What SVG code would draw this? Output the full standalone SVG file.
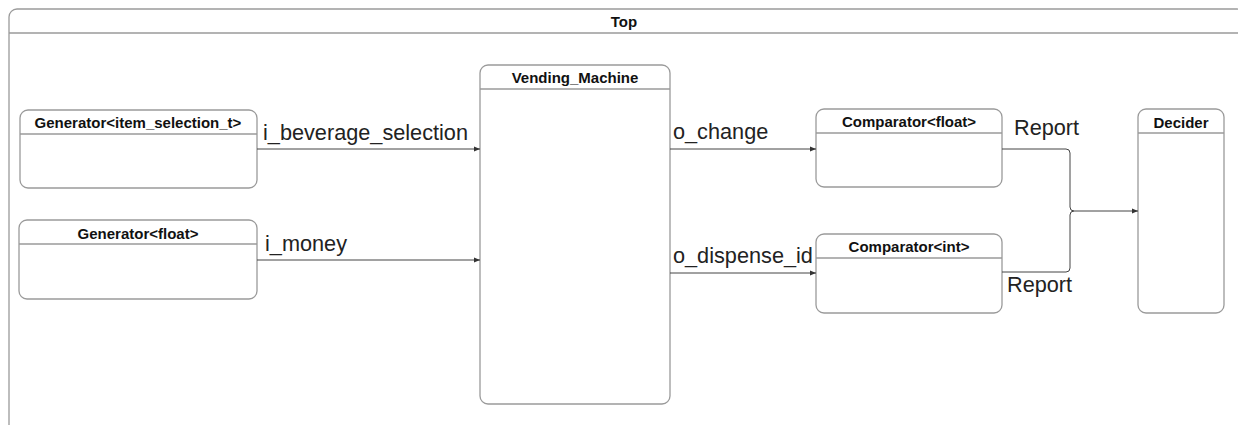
<svg xmlns="http://www.w3.org/2000/svg" width="1238" height="425" viewBox="0 0 1238 425">
<style>
.box{fill:#fff;stroke:#9a9a9a;stroke-width:1.3}
.sep{stroke:#9a9a9a;stroke-width:1.3}
.hdr{font-family:"Liberation Sans",Arial,sans-serif;font-size:15px;font-weight:bold;fill:#111;text-anchor:middle}
.lbl{font-family:"Liberation Sans",Arial,sans-serif;font-size:21.7px;fill:#222}
.edge{fill:none;stroke:#444;stroke-width:1}
</style>
<defs>
<marker id="arr" viewBox="0 0 10 10" refX="10" refY="5" markerWidth="6" markerHeight="6" orient="auto" markerUnits="userSpaceOnUse">
<path d="M0,1 L10,5 L0,9 Z" fill="#333"/>
</marker>
</defs>
<rect width="1238" height="425" fill="#fff"/>
<g id="Top">
<rect class="box" x="9" y="9" width="1236" height="424" rx="8"/>
<line class="sep" x1="9" y1="33" x2="1245" y2="33"/>
<text class="hdr" x="624" y="27">Top</text>
</g>
<g id="gen_item">
<rect class="box" x="20" y="110" width="237" height="78" rx="8"/>
<line class="sep" x1="20" y1="134" x2="257" y2="134"/>
<text class="hdr" x="138" y="128">Generator&lt;item_selection_t&gt;</text>
</g>
<g id="gen_float">
<rect class="box" x="19" y="220" width="238" height="79" rx="8"/>
<line class="sep" x1="19" y1="244" x2="257" y2="244"/>
<text class="hdr" x="138" y="239">Generator&lt;float&gt;</text>
</g>
<g id="vending">
<rect class="box" x="480" y="65" width="190" height="339" rx="8"/>
<line class="sep" x1="480" y1="89" x2="670" y2="89"/>
<text class="hdr" x="575" y="83">Vending_Machine</text>
</g>
<g id="comp_float">
<rect class="box" x="816" y="109" width="186" height="78" rx="8"/>
<line class="sep" x1="816" y1="133" x2="1002" y2="133"/>
<text class="hdr" x="909" y="127">Comparator&lt;float&gt;</text>
</g>
<g id="comp_int">
<rect class="box" x="816" y="234" width="186" height="79" rx="8"/>
<line class="sep" x1="816" y1="258" x2="1002" y2="258"/>
<text class="hdr" x="909" y="252">Comparator&lt;int&gt;</text>
</g>
<g id="decider">
<rect class="box" x="1138" y="109" width="86" height="204" rx="8"/>
<line class="sep" x1="1138" y1="133" x2="1224" y2="133"/>
<text class="hdr" x="1181" y="128">Decider</text>
</g>
<g id="connectors">
<path class="edge" d="M257,149 H480" marker-end="url(#arr)"/>
<text class="lbl" x="263" y="140">i_beverage_selection</text>
<path class="edge" d="M257,260 H480" marker-end="url(#arr)"/>
<text class="lbl" x="265" y="251">i_money</text>
<path class="edge" d="M670,149 H816" marker-end="url(#arr)"/>
<text class="lbl" x="673" y="139">o_change</text>
<path class="edge" d="M670,273 H816" marker-end="url(#arr)"/>
<text class="lbl" x="673" y="263">o_dispense_id</text>
<path class="edge" d="M1002,149 H1066 Q1070,149 1070,153 V207 Q1070,211 1074,211 H1138" marker-end="url(#arr)"/>
<path class="edge" d="M1002,272 H1066 Q1070,272 1070,268 V215 Q1070,211 1074,211"/>
<text class="lbl" x="1014" y="135">Report</text>
<text class="lbl" x="1007" y="292">Report</text>
</g>
</svg>
